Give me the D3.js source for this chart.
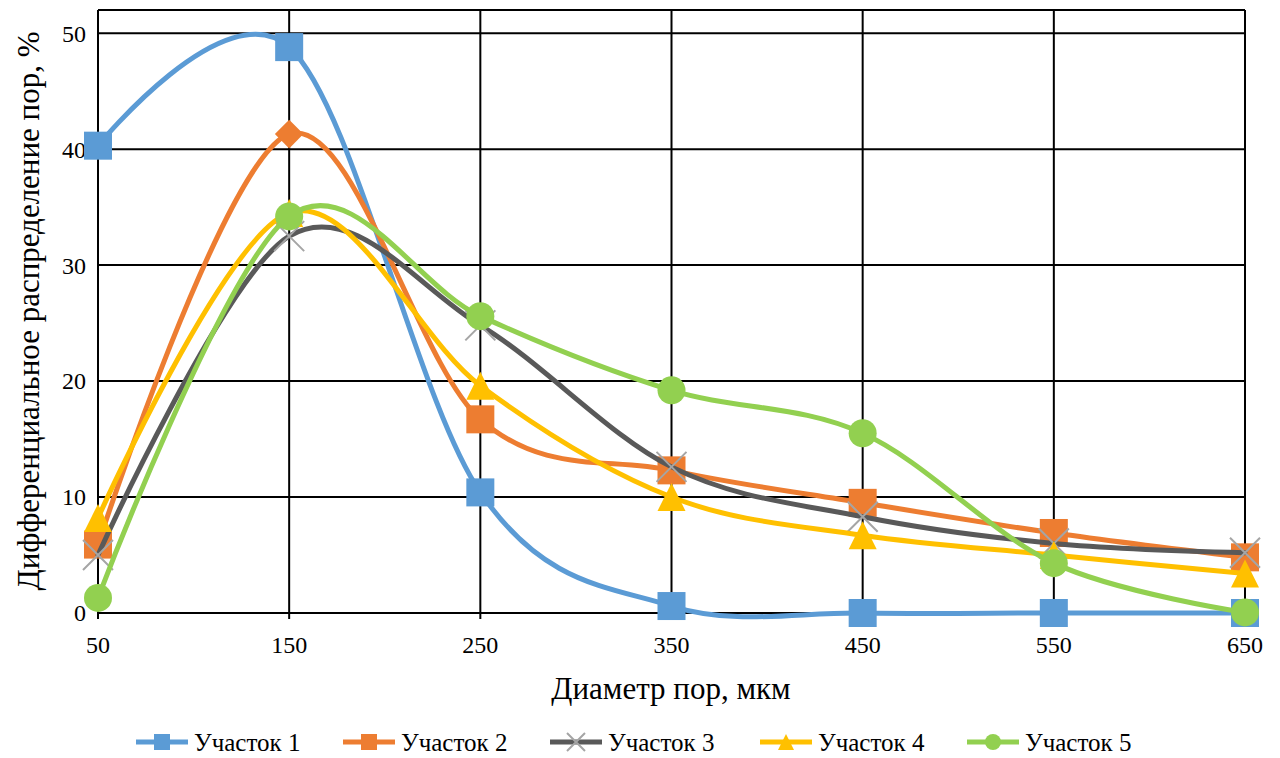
<!DOCTYPE html>
<html><head><meta charset="utf-8">
<script src="https://cdn.jsdelivr.net/npm/d3@7"></script>
<style>body{margin:0;background:#fff;}</style>
</head><body>
<svg id="c" width="1280" height="758"></svg>
<script>
const categories = [50,150,250,350,450,550,650];
const yTicks = [0,10,20,30,40,50];
const seriesNames = ["Участок 1","Участок 2","Участок 3","Участок 4","Участок 5"];
const s1 = [40.3,48.8,10.4,0.6,0,0,0];
const s2 = [5.9,41.3,16.7,12.3,9.5,6.9,4.8];
const s3 = [5.0,32.5,24.8,12.6,8.3,6.0,5.2];
const s4 = [8.2,34.5,19.6,10.0,6.7,5.0,3.4];
const s5 = [1.3,34.2,25.6,19.2,15.5,4.3,0.05];
const xTitle = "Диаметр пор, мкм";
const yTitle = "Дифференциальное распределение пор, %";

const FONT = "'Liberation Serif', 'Times New Roman', 'DejaVu Serif', serif";
const colors = ["#5B9BD5","#ED7D31","#595959","#FFC000","#92D050"];
const markers = ["square","square","x","triangle","circle"];
const values = [s1,s2,s3,s4,s5];

const svg = d3.select("#c");
const L=98,R=1245,T=10,B=613;
const x = d3.scalePoint().domain(categories).range([L,R]);
const y = d3.scaleLinear().domain([0,52]).range([B,T]);

const g = svg.append("g");
g.selectAll(".hg").data(yTicks.filter(d=>d>0)).enter().append("line")
 .attr("x1",L).attr("x2",R).attr("y1",d=>y(d)).attr("y2",d=>y(d)).attr("stroke","#000").attr("stroke-width",2);
g.selectAll(".vg").data(categories).enter().append("line")
 .attr("x1",d=>x(d)).attr("x2",d=>x(d)).attr("y1",T).attr("y2",B+6).attr("stroke","#000").attr("stroke-width",2);
g.append("line").attr("x1",L).attr("x2",R).attr("y1",T).attr("y2",T).attr("stroke","#000").attr("stroke-width",2);
g.append("line").attr("x1",L).attr("x2",R+1).attr("y1",B).attr("y2",B).attr("stroke","#000").attr("stroke-width",2);

svg.selectAll(".yl").data(yTicks).enter().append("text")
 .attr("x",L-12).attr("y",d=>y(d)).attr("dy","0.35em").attr("text-anchor","end")
 .attr("font-family",FONT).attr("font-size",24).text(d=>d);
svg.selectAll(".xl").data(categories).enter().append("text")
 .attr("x",d=>x(d)).attr("y",645).attr("dy","0.35em").attr("text-anchor","middle")
 .attr("font-family",FONT).attr("font-size",24).text(d=>d);

svg.append("text").attr("x",671).attr("y",688).attr("dy","0.35em").attr("text-anchor","middle")
 .attr("font-family",FONT).attr("font-size",31).text(xTitle);
svg.append("text").attr("transform","translate(28,311) rotate(-90)").attr("dy","0.35em").attr("text-anchor","middle")
 .attr("font-family",FONT).attr("font-size",31).text(yTitle);

function drawMarker(sel, type, color, cx, cy, s){
  if(type==="square"){
    sel.append("rect").attr("x",cx-s/2).attr("y",cy-s/2).attr("width",s).attr("height",s).attr("fill",color);
  } else if(type==="diamond"){
    const h=s*0.55;
    sel.append("path").attr("d",`M${cx},${cy-h}L${cx+h},${cy}L${cx},${cy+h}L${cx-h},${cy}Z`).attr("fill",color);
  } else if(type==="circle"){
    sel.append("circle").attr("cx",cx).attr("cy",cy).attr("r",s/2).attr("fill",color);
  } else if(type==="triangle"){
    sel.append("path").attr("d",`M${cx},${cy-s/2}L${cx+s/2},${cy+s/2}L${cx-s/2},${cy+s/2}Z`).attr("fill",color);
  } else if(type==="x"){
    const h=s/2;
    sel.append("path").attr("d",`M${cx-h},${cy-h}L${cx+h},${cy+h}M${cx-h},${cy+h}L${cx+h},${cy-h}`)
      .attr("stroke","#A5A5A5").attr("stroke-width",2).attr("fill","none");
  }
}

const line = d3.line().x((d,i)=>x(categories[i])).y(d=>y(d)).curve(d3.curveCardinal.tension(0));
values.forEach((vals,si)=>{
  const sg = svg.append("g");
  sg.append("path").attr("d",line(vals)).attr("fill","none").attr("stroke",colors[si]).attr("stroke-width",5)
    .attr("stroke-linejoin","round").attr("stroke-linecap","round");
  vals.forEach((v,i)=>{
    let type = markers[si];
    if(si===1 && i===1) type="diamond";
    const size = type==="x"?30:(type==="diamond"?26:28);
    drawMarker(sg,type,colors[si],x(categories[i]),y(v),size);
  });
});

const legX = [136,343,550,760,967];
seriesNames.forEach((n,i)=>{
  const lg = svg.append("g");
  const ly = 742;
  lg.append("line").attr("x1",legX[i]).attr("x2",legX[i]+52).attr("y1",ly).attr("y2",ly)
    .attr("stroke",colors[i]).attr("stroke-width",5);
  drawMarker(lg,markers[i],colors[i],legX[i]+26,ly,markers[i]==="x"?18:16);
  lg.append("text").attr("x",legX[i]+58).attr("y",ly).attr("dy","0.35em")
    .attr("font-family",FONT).attr("font-size",25).text(n);
});
</script>
</body></html>
